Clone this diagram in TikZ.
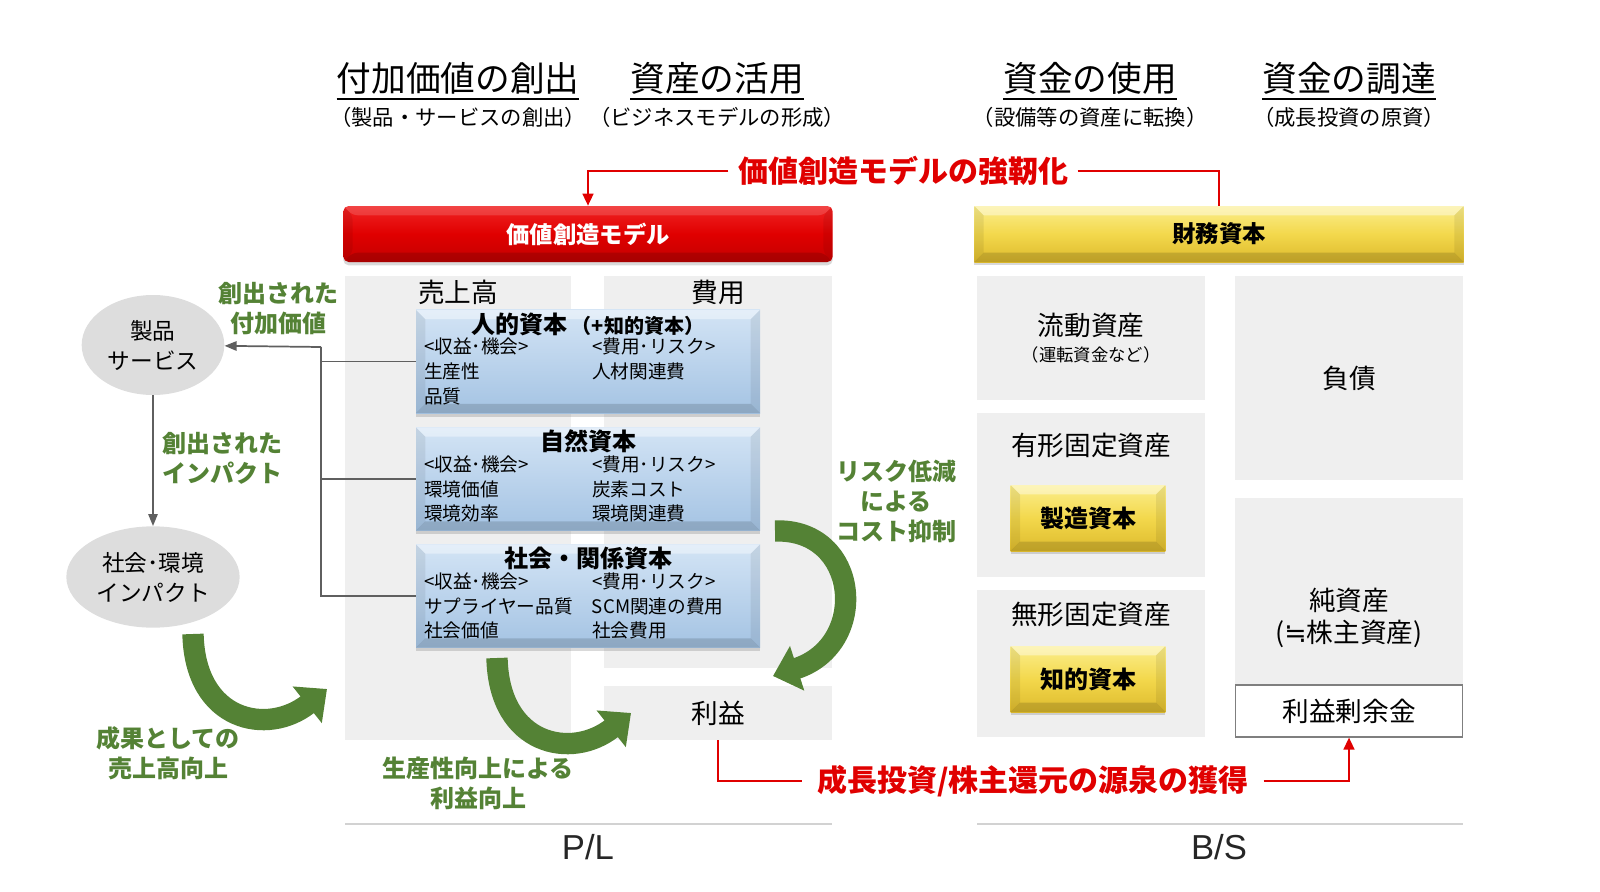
\documentclass[tikz,border=0pt]{standalone}
\usepackage{fontspec}
\setmainfont{Noto Sans CJK JP}
\newfontfamily\plfont{Liberation Sans}
\newfontfamily\symfont{DejaVu Sans}
\usetikzlibrary{positioning,shapes.geometric,arrows.meta,shadows}

\definecolor{vcred}{HTML}{E00000}
\definecolor{redtop}{HTML}{F02424}
\definecolor{redbot}{HTML}{C40000}
\definecolor{goldtop}{HTML}{FBEE8C}
\definecolor{goldmid}{HTML}{F3D84C}
\definecolor{goldbot}{HTML}{DDBA2C}
\definecolor{capbluetop}{HTML}{D3E4F5}
\definecolor{capblue}{HTML}{A4C3E3}
\definecolor{panelgrey}{HTML}{EFEFEF}
\definecolor{ovalgrey}{HTML}{DDDDDD}
\definecolor{leafgreen}{HTML}{548235}
\definecolor{linegrey}{HTML}{5F5F5F}
\definecolor{rulegrey}{HTML}{D2D2D2}

\newcommand{\fsz}[2]{\fontsize{#1}{#2}\selectfont}
\newcommand{\ulhead}[1]{\setbox0\hbox{#1}\rlap{\rule[-6pt]{\wd0}{1.4pt}}\box0}

\begin{document}
\begin{tikzpicture}[x=0.75pt, y=-0.75pt,
panel/.style={fill=panelgrey, inner sep=0pt, align=center, font=\fsz{20}{24}},
colhead/.style={font=\fsz{20}{24}},
oval/.style={ellipse, fill=ovalgrey, inner sep=0pt, align=center, font=\fsz{17}{22.5}},
bevel/.style={path picture={
  \path (path picture bounding box.north west) coordinate (bnw)
        (path picture bounding box.north east) coordinate (bne)
        (path picture bounding box.south west) coordinate (bsw)
        (path picture bounding box.south east) coordinate (bse);
  \fill[white, opacity=#1] (bnw) -- (bne) -- ([shift={(-7pt,-7pt)}]bne) -- ([shift={(7pt,-7pt)}]bnw) -- cycle;
  \fill[black, opacity=.14] (bsw) -- (bse) -- ([shift={(-7pt,7pt)}]bse) -- ([shift={(7pt,7pt)}]bsw) -- cycle;
  \fill[black, opacity=.07] (bnw) -- ([shift={(7pt,-7pt)}]bnw) -- ([shift={(7pt,7pt)}]bsw) -- (bsw) -- cycle;
  \fill[black, opacity=.07] (bne) -- ([shift={(-7pt,-7pt)}]bne) -- ([shift={(-7pt,7pt)}]bse) -- (bse) -- cycle;
}},
bevel/.default=.4,
softshadow/.style={drop shadow={opacity=.3, shadow xshift=0pt, shadow yshift=-2.5pt}},
redbar/.style={bevel=.15, softshadow, rounded corners=4pt, top color=redtop, bottom color=redbot, middle color=vcred,
  text=white, font=\bfseries\fsz{17.5}{20}, minimum width=367pt, minimum height=42pt},
goldbar/.style={bevel, softshadow, top color=goldtop, bottom color=goldbot, middle color=goldmid,
  font=\bfseries\fsz{17.5}{20}, minimum width=367pt, minimum height=42pt},
goldbox/.style={bevel, softshadow, top color=goldtop, bottom color=goldbot, middle color=goldmid,
  font=\bfseries\fsz{18}{20}, minimum width=116pt, minimum height=49.5pt},
capbox/.style={bevel, softshadow, top color=capbluetop, bottom color=capblue, align=center,
  inner sep=1.5pt, minimum width=258pt, minimum height=77.5pt, font=\fsz{14}{18.4}},
headline/.style={anchor=base, inner sep=0pt, font=\fsz{26}{30}},
subline/.style={anchor=base, inner sep=0pt, font=\fsz{16}{20}},
redtext/.style={text=vcred, font=\bfseries\fsz{22.5}{26}, inner ysep=4pt, inner xsep=7pt},
redline/.style={draw=vcred, line width=1.7pt},
link/.style={draw=linegrey, line width=1.3pt},
gain/.style={text=leafgreen, font=\bfseries\fsz{18}{22.5}, align=center},
sweep/.style={draw=leafgreen, line width=16pt, -{Triangle[length=19pt,width=34pt]}},
sepline/.style={draw=rulegrey, line width=1.5pt},
pltext/.style={font=\plfont\fsz{26}{30}, text=black!85}
]
\useasboundingbox (0,0) rectangle (1600,892);

% column headings
\node[headline] (addvalue) at (458,92) {\ulhead{付加価値の創出}};
\node[subline] (addvaluesub) at (458,125) {（製品・サービスの創出）};
\node[headline] (assetuse) at (717,92) {\ulhead{資産の活用}};
\node[subline] (assetusesub) at (717,125) {（ビジネスモデルの形成）};
\node[headline] (funduse) at (1090,92) {\ulhead{資金の使用}};
\node[subline] (fundusesub) at (1090,125) {（設備等の資産に転換）};
\node[headline] (fundraise) at (1349,92) {\ulhead{資金の調達}};
\node[subline] (fundraisesub) at (1349,125) {（成長投資の原資）};

% bars
\node[redbar] (model) at (588,234) {価値創造モデル};
\node[goldbar] (finance) at (1219,234) {財務資本};
\node[redtext] (strength) at (903,171) {価値創造モデルの強靭化};
\draw[redline, -{Triangle[length=9pt,width=8pt]}] (strength.west) -| (model.north);
\draw[redline] (strength.east) -| (finance.north);

% P/L
\node[panel, minimum width=169.5pt, minimum height=348pt] (sales) at (458,508) {};
\node[panel, minimum width=171pt, minimum height=294pt] (cost) at (718,472) {};
\node[panel, minimum width=171pt, minimum height=40.5pt] (profit) at (718,713) {利益};
\node[colhead, below=0pt of sales.north] (saleshead) {売上高};
\node[colhead, below=0pt of cost.north] (costhead) {費用};

\node[capbox] (human) at (588,361.5) {{\bfseries\fsz{18}{22}人的資本\,\fsz{15}{18}（+知的資本）}\\
  \begin{tabular}{@{}p{116pt}@{\hspace{10pt}}p{120pt}@{}}
  <収益･機会> & <費用･リスク>\\ 生産性 & 人材関連費\\ 品質 & \end{tabular}};
\node[capbox] (nature) at (588,479) {{\bfseries\fsz{18}{22}自然資本}\\
  \begin{tabular}{@{}p{116pt}@{\hspace{10pt}}p{120pt}@{}}
  <収益･機会> & <費用･リスク>\\ 環境価値 & 炭素コスト\\ 環境効率 & 環境関連費\end{tabular}};
\node[capbox] (social) at (588,596) {{\bfseries\fsz{18}{22}社会・関係資本}\\
  \begin{tabular}{@{}p{116pt}@{\hspace{10pt}}p{120pt}@{}}
  <収益･機会> & <費用･リスク>\\ サプライヤー品質 & SCM関連の費用\\ 社会価値 & 社会費用\end{tabular}};

% products and impact
\node[oval, minimum width=107pt, minimum height=75pt] (prod) at (153,345) {製品\\サービス};
\node[oval, minimum width=130pt, minimum height=76pt] (impact) at (153,577) {社会･環境\\インパクト};
\coordinate (join) at (321,347);
\draw[link] (human.west) -- (human.west -| join);
\draw[link] (nature.west) -- (nature.west -| join);
\draw[link] (social.west) -| (join);
\draw[link, -{Triangle[length=9pt,width=7pt]}] (join) -- (prod);
\draw[link, -{Triangle[length=9pt,width=7pt]}] (prod) -- (impact);

\node[gain] (addedlbl) at (278,309) {創出された\\付加価値};
\node[gain] (impactlbl) at (222,458) {創出された\\インパクト};
\node[gain] (saleslbl) at (168,753) {成果としての\\売上高向上};
\node[gain] (productivitylbl) at (478,783) {生産性向上による\\利益向上};
\node[gain] (risklbl) at (896,501) {リスク低減\\による\\コスト抑制};

% green loops
\coordinate (saleshookS) at (193,634);
\coordinate (saleshookE) at (327,689);
\coordinate (profithookS) at (497,658);
\coordinate (profithookE) at (631,713);
\coordinate (costhookS) at (775,531);
\coordinate (costhookE) at (773,676);
\draw[sweep] (saleshookS) .. controls (195,722) and (268,736) .. (saleshookE);
\draw[sweep] (profithookS) .. controls (499,746) and (572,760) .. (profithookE);
\draw[sweep] (costhookS) .. controls (860,528) and (870,645) .. (costhookE);

% B/S
\node[panel, minimum width=171pt, minimum height=93pt, font=\fsz{20}{20}] (current) at (1091,338) {流動資産\\{\fsz{13}{15}（運転資金など）}};
\node[panel, minimum width=171pt, minimum height=123pt] (tangible) at (1091,495) {};
\node[panel, minimum width=171pt, minimum height=110pt] (intangible) at (1091,663.5) {};
\node[colhead, below=11.5pt of tangible.north] (tangiblehead) {有形固定資産};
\node[colhead, below=5.5pt of intangible.north] (intangiblehead) {無形固定資産};
\node[goldbox] (built) at (1088,518) {製造資本};
\node[goldbox] (intel) at (1088,679) {知的資本};
\node[panel, minimum width=171pt, minimum height=153pt] (debt) at (1349,378) {負債};
\node[panel, minimum width=171pt, minimum height=179pt] (equity) at (1349,617.5) {純資産\\({\symfont ≒}株主資産)};
\node[draw=linegrey!80, line width=0.8pt, fill=white, minimum width=170pt, minimum height=39pt, font=\fsz{20}{24}] (retained) at (1349,711) {利益剰余金};

\node[redtext, inner xsep=11pt] (source) at (1033,781) {成長投資/株主還元の源泉の獲得};
\draw[redline] (profit.south) |- (source.west);
\draw[redline, -{Triangle[length=9pt,width=8pt]}] (source.east) -| (retained.south);

% statements
\draw[sepline] (345,824) -- (832,824);
\draw[sepline] (977,824) -- (1463,824);
\node[pltext] (pl) at (588,847) {P/L};
\node[pltext] (bs) at (1219,847) {B/S};
\end{tikzpicture}
\end{document}
